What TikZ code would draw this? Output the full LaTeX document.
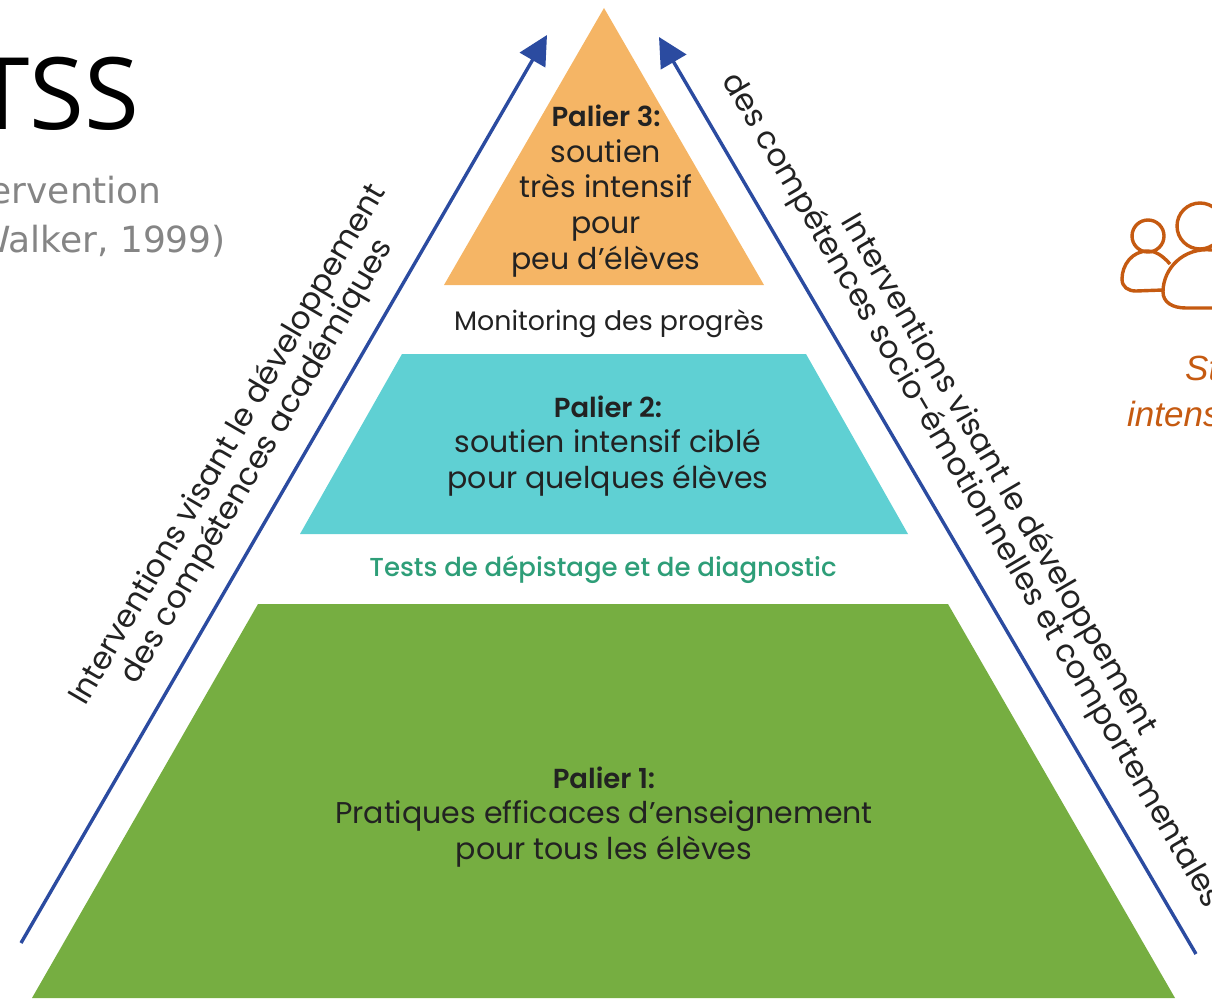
\documentclass[tikz,border=0pt]{standalone}
\usepackage{fontspec}
\setmainfont{Poppins}[BoldFont={Poppins SemiBold}]
\newfontfamily\titlefont{Open Sans}
\newfontfamily\subfont{DejaVu Sans}
\newfontfamily\noteitalic{Liberation Sans}
\newfontfamily\midfont{Poppins Medium}
\usetikzlibrary{arrows.meta}
\definecolor{tierorange}{HTML}{F5B565}
\definecolor{tierteal}{HTML}{5FD0D3}
\definecolor{tiergreen}{HTML}{76AE41}
\definecolor{arrowblue}{HTML}{2B4BA0}
\definecolor{inktext}{HTML}{222222}
\definecolor{testgreen}{HTML}{2E9E78}
\definecolor{iconorange}{HTML}{C55A11}
\definecolor{subgrey}{HTML}{858585}
\newcommand{\headfont}{\bfseries\fontsize{27.5}{35.6}\selectfont}
\tikzset{
  tier/.style={align=center,text=inktext,font=\fontsize{30}{35.6}\selectfont,inner sep=0pt},
  band/.style={text=inktext,inner sep=0pt},
  slant/.style={text=inktext,font=\fontsize{31.2}{34}\selectfont,inner sep=0pt},
  risearrow/.style={draw=arrowblue,line width=3.4pt,-{Triangle[length=29pt,width=29pt]}},
  iconline/.style={draw=iconorange,line width=3.4pt},
  note/.style={text=iconorange,font=\noteitalic\itshape\fontsize{35}{40}\selectfont,inner sep=0pt}
}
\begin{document}
\begin{tikzpicture}[x=1pt,y=-1pt]
\useasboundingbox (0,0) rectangle (1212,998);
\clip (0,0) rectangle (1212,998);
% tiers
\fill[tierorange] (604,8) -- (764,285) -- (444,285) -- cycle;
\fill[tierteal] (402,354) -- (806,354) -- (908,534) -- (300,534) -- cycle;
\fill[tiergreen] (258,604) -- (948,604) -- (1175,998) -- (32,998) -- cycle;
% tier labels
\node[tier] (p3) at (606,191) {{\headfont Palier 3:}\\soutien\\très intensif\\pour\\peu d’élèves};
\node[tier] (p2) at (608,446) {{\headfont Palier 2:}\\soutien intensif ciblé\\pour quelques élèves};
\node[tier] (p1) at (604,817) {{\headfont Palier 1:}\\Pratiques efficaces d’enseignement\\pour tous les élèves};
\node[band,font=\fontsize{26.8}{30}\selectfont] (mon) at (609,324) {Monitoring des progrès};
\node[band,text=testgreen,font=\midfont\fontsize{26}{30}\selectfont] (tst) at (603,570) {Tests de dépistage et de diagnostic};
% arrows
\coordinate (la) at (21,943);
\coordinate (lb) at (547,35);
\coordinate (ra) at (1196,954);
\coordinate (rb) at (659,37);
\draw[risearrow] (la) -- (lb);
\draw[risearrow] (ra) -- (rb);
% slanted labels
\node[slant,rotate=59.7] (l1) at (229,445) {Interventions visant le développement};
\node[slant,rotate=59.7] (l2) at (258,462) {des compétences académiques};
\node[slant,rotate=-59.7] (r1) at (998,475) {Interventions visant le développement};
\node[slant,rotate=-59.7] (r2) at (971,491) {des compétences socio-émotionnelles et comportementales};
% title fragments
\node[anchor=base west,inner sep=0pt,font=\titlefont\fontsize{100}{110}\selectfont] (ttl) at (-26,129) {TSS};
\node[anchor=base east,inner sep=0pt,text=subgrey,font=\subfont\fontsize{36}{40}\selectfont] (s1) at (162,203) {ervention};
\node[anchor=base east,inner sep=0pt,text=subgrey,font=\subfont\fontsize{36}{40}\selectfont] (s2) at (226,252) {Walker, 1999)};
% icon
\draw[iconline] (1148,236) circle (16);
\draw[iconline] (1200,226) circle (23);
\draw[iconline] (1170,264) .. controls (1162,255) and (1155,251) .. (1148,251)
  .. controls (1132,251) and (1122,265) .. (1122,279)
  .. controls (1122,287) and (1128,291) .. (1136,291) -- (1163,290);
\draw[iconline] (1212,250) .. controls (1184,247) and (1163,268) .. (1163,292)
  .. controls (1163,302) and (1172,308) .. (1186,308) -- (1212,308);
\node[note,anchor=base west] (n1) at (1185,380) {St};
\node[note,anchor=base west] (n2) at (1127,426) {intens};
\end{tikzpicture}
\end{document}
